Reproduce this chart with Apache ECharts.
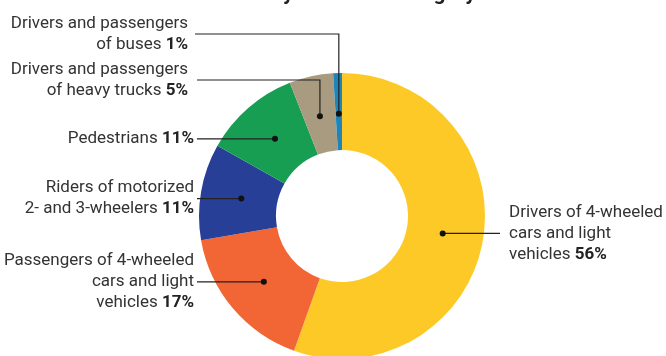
<!DOCTYPE html>
<html>
<head>
<meta charset="utf-8">
<script src="https://cdn.jsdelivr.net/npm/echarts@6/dist/echarts.min.js"></script>
<style>
  html, body { margin: 0; padding: 0; background: #fff; }
  #roadChart { width: 666px; height: 356px; }
</style>
</head>
<body>
<div id="roadChart"></div>
<script>
// road user categories, clockwise from 12 o'clock
const categories = [
  'Drivers of 4-wheeled\ncars and light\nvehicles',
  'Passengers of 4-wheeled\ncars and light\nvehicles',
  'Riders of motorized\n2- and 3-wheelers',
  'Pedestrians',
  'Drivers and passengers\nof heavy trucks',
  'Drivers and passengers\nof buses'
]
const shares = [56, 17, 11, 11, 5, 1]
const colors = ['#FDC927', '#F26535', '#283F98', '#189E53', '#A99B7F', '#1E84B9']
const titleText = 'Deaths by road user category'

// where each callout goes (line end, elbow height, text anchor)
const callouts = [
  { side: 'right', endX: 500, textX: 509 },
  { side: 'left', endX: 197, textX: 194 },
  { side: 'left', endX: 197, textX: 194 },
  { side: 'left', endX: 197, textX: 194 },
  { side: 'left', elbowY: 80, endX: 197, textX: 188 },
  { side: 'left', elbowY: 34, endX: 195, textX: 188 }
]

const FONT = '"Roboto", sans-serif'

const chart = echarts.init(document.getElementById('roadChart'))
chart.setOption({
  animation: false,
  backgroundColor: '#fff',
  series: [{
    type: 'pie',
    center: [342, 216],
    radius: [66, 143],
    startAngle: 90,
    clockwise: true,
    label: { show: false },
    labelLine: { show: false },
    emphasis: { disabled: true },
    data: shares.map(function(v, i) {
      return { name: categories[i], value: v, itemStyle: { color: colors[i] } }
    })
  }]
})

// callouts: dots sit in the middle of each slice, taken from the pie layout
const pieData = chart.getModel().getSeriesByIndex(0).getData()
const graphics = [{
  type: 'text',
  x: 338,
  y: -5,
  style: {
    text: titleText,
    align: 'center',
    verticalAlign: 'middle',
    font: 'bold 21px ' + FONT,
    fill: '#222'
  }
}]
shares.forEach(function(v, i) {
  const lay = pieData.getItemLayout(i)
  const mid = (lay.startAngle + lay.endAngle) / 2
  const rm = lay.r0 + (lay.r - lay.r0) * 0.47
  const dx = lay.cx + rm * Math.cos(mid)
  const dy = lay.cy + rm * Math.sin(mid)
  const c = callouts[i]
  const ty = c.elbowY !== undefined ? c.elbowY : dy
  const pts = c.elbowY !== undefined
    ? [[dx, dy], [dx, c.elbowY], [c.endX, c.elbowY]]
    : [[dx, dy], [c.endX, dy]]
  graphics.push({
    type: 'polyline',
    shape: { points: pts },
    style: { stroke: '#222', lineWidth: 1.2, fill: null },
    z: 10
  })
  graphics.push({
    type: 'circle',
    shape: { cx: dx, cy: dy, r: 3 },
    style: { fill: '#111' },
    z: 11
  })
  graphics.push({
    type: 'text',
    x: c.textX,
    y: ty,
    style: {
      text: categories[i] + ' {b|' + v + '%}',
      align: c.side === 'left' ? 'right' : 'left',
      verticalAlign: 'middle',
      font: '17px ' + FONT,
      lineHeight: 21,
      fill: '#333',
      rich: {
        b: { font: 'bold 17px ' + FONT, fill: '#222', lineHeight: 21 }
      }
    },
    z: 12
  })
})
chart.setOption({ graphic: graphics })
</script>
</body>
</html>
